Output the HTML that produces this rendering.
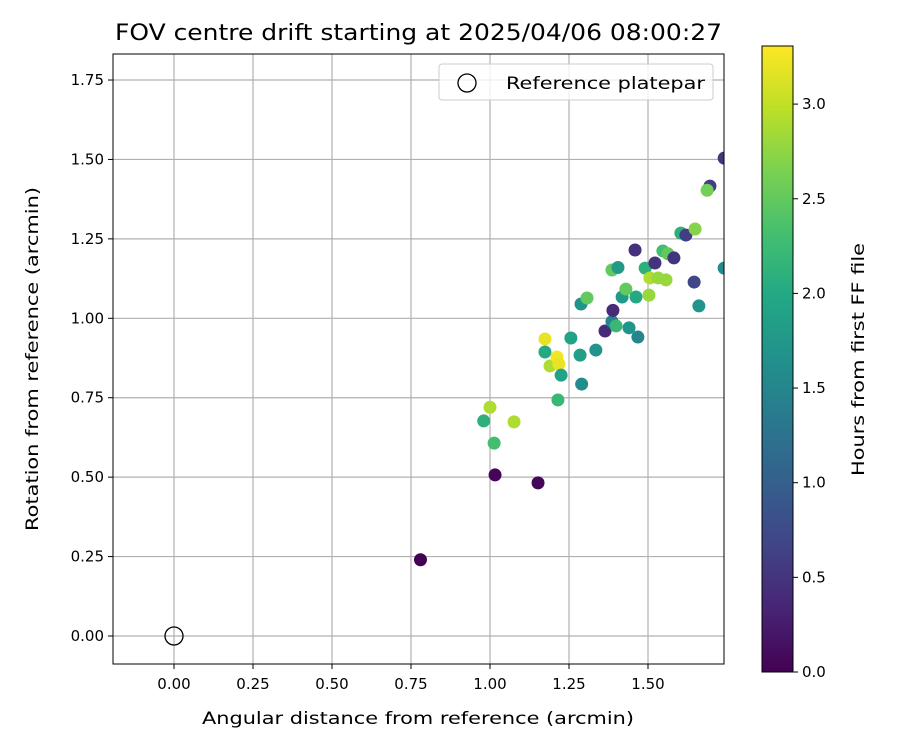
<!DOCTYPE html>
<html><head><meta charset="utf-8"><style>body{margin:0;background:#fff}svg{font-family:"DejaVu Sans","Liberation Sans",sans-serif}</style></head>
<body>
<svg id="c" width="900" height="750" xmlns="http://www.w3.org/2000/svg">
<defs>
<clipPath id="clip"><rect x="113" y="54" width="611" height="610"/></clipPath>
<linearGradient id="vir" x1="0" y1="1" x2="0" y2="0">
<stop offset="0" stop-color="#440154"/><stop offset="0.1" stop-color="#482475"/><stop offset="0.2" stop-color="#414487"/><stop offset="0.3" stop-color="#355f8d"/><stop offset="0.4" stop-color="#2a788e"/><stop offset="0.5" stop-color="#21918c"/><stop offset="0.6" stop-color="#22a884"/><stop offset="0.7" stop-color="#44bf70"/><stop offset="0.8" stop-color="#7ad151"/><stop offset="0.9" stop-color="#bddf26"/><stop offset="1" stop-color="#fde725"/>
</linearGradient>
</defs>
<text x="115" y="40" font-size="22" textLength="607" lengthAdjust="spacingAndGlyphs">FOV centre drift starting at 2025/04/06 08:00:27</text>
<g id="grid"></g>
<g id="pts" clip-path="url(#clip)"></g>
<rect x="113" y="54" width="611" height="610" fill="none" stroke="#000" stroke-width="1"/>
<g id="ticks"></g>
<text x="202" y="724" font-size="17" textLength="432" lengthAdjust="spacingAndGlyphs">Angular distance from reference (arcmin)</text>
<text transform="translate(38,531) rotate(-90)" font-size="17" textLength="344" lengthAdjust="spacingAndGlyphs">Rotation from reference (arcmin)</text>
<g>
<rect x="439" y="64" width="274" height="36" rx="3" fill="#fff" fill-opacity="0.8" stroke="#ccc"/>
<circle cx="467" cy="83" r="9" fill="none" stroke="#000" stroke-width="1.3"/>
<text x="506" y="89" font-size="17" textLength="199" lengthAdjust="spacingAndGlyphs">Reference platepar</text>
</g>
<rect x="762" y="46" width="31" height="626" fill="url(#vir)" stroke="#000" stroke-width="1"/>
<g id="cbt"></g>
<text transform="translate(864,476) rotate(-90)" font-size="17" textLength="233" lengthAdjust="spacingAndGlyphs">Hours from first FF file</text>
</svg>
<script>
const xTicks=[0,0.25,0.5,0.75,1.0,1.25,1.5];
const yTicks=[0,0.25,0.5,0.75,1.0,1.25,1.5,1.75];
const cTicks=[0,0.5,1.0,1.5,2.0,2.5,3.0];
const xs=[0.78,1.016,1.152,1.0,0.98,1.013,1.076,1.174,1.174,1.19,1.212,1.218,1.225,1.215,1.256,1.285,1.29,1.288,1.307,1.335,1.364,1.386,1.389,1.386,1.405,1.399,1.418,1.43,1.44,1.459,1.462,1.468,1.491,1.503,1.506,1.522,1.532,1.547,1.557,1.563,1.582,1.604,1.62,1.649,1.646,1.661,1.696,1.687,1.741,1.741];
const ys=[0.24,0.507,0.482,0.72,0.677,0.607,0.674,0.935,0.894,0.85,0.878,0.856,0.821,0.743,0.938,0.884,0.793,1.045,1.064,0.9,0.96,0.99,1.025,1.152,1.16,0.976,1.067,1.092,0.97,1.215,1.067,0.941,1.158,1.073,1.127,1.174,1.127,1.212,1.121,1.203,1.19,1.268,1.262,1.281,1.114,1.039,1.416,1.403,1.504,1.158];
const hrs=[0.0,0.05,0.05,2.9,2.1,2.3,2.9,3.2,2.0,2.9,3.25,3.2,1.9,2.2,1.9,1.85,1.6,1.7,2.5,1.7,0.4,1.5,0.4,2.5,1.8,2.2,1.8,2.5,1.7,0.45,2.0,1.5,2.1,2.8,2.9,0.5,2.8,2.3,2.8,2.5,0.5,2.1,0.6,2.7,0.7,1.7,0.6,2.6,0.5,1.6];
const X=v=>174+v*316, Y=v=>636-v*317.7, C=v=>672-v*189.3;
const vir=[[68,1,84],[72,36,117],[65,68,135],[53,95,141],[42,120,142],[33,145,140],[34,168,132],[68,191,112],[122,209,81],[189,223,38],[253,231,37]];
function col(h){let t=Math.max(0,Math.min(1,h/3.306))*10,i=Math.min(9,Math.floor(t)),f=t-i,a=vir[i],b=vir[i+1];return`rgb(${a.map((v,k)=>Math.round(v+(b[k]-v)*f)).join(',')})`;}
const NS='http://www.w3.org/2000/svg';
function mk(p,tag,at,txt){const e=document.createElementNS(NS,tag);for(const k in at)e.setAttribute(k,at[k]);if(txt!==undefined)e.textContent=txt;document.getElementById(p).appendChild(e);return e;}
xTicks.forEach(v=>{const x=X(v);
let g=mk('grid','line',{x1:x,x2:x,y1:54,y2:664,stroke:'#b0b0b0','stroke-width':1.2});


let t=mk('ticks','line',{x1:x,x2:x,y1:664,y2:669,stroke:'#000'});


let l=mk('ticks','text',{x:x,y:689,'font-size':15,'text-anchor':'middle'},v.toFixed(2));

});
yTicks.forEach(v=>{const y=Y(v);
let g=mk('grid','line',{x1:113,x2:724,y1:y,y2:y,stroke:'#b0b0b0','stroke-width':1.2});


let t=mk('ticks','line',{x1:108,x2:113,y1:y,y2:y,stroke:'#000'});


let l=mk('ticks','text',{x:104,y:y+5,'font-size':15,'text-anchor':'end'},v.toFixed(2));

});
cTicks.forEach(v=>{const y=C(v);
let t=mk('cbt','line',{x1:793,x2:798,y1:y,y2:y,stroke:'#000'});


let l=mk('cbt','text',{x:802,y:y+5,'font-size':15},v.toFixed(1));

});
xs.forEach((v,i)=>{let c=mk('pts','circle',{cx:X(v),cy:Y(ys[i]),r:6.5,fill:col(hrs[i])});

});
let r=mk('pts','circle',{cx:X(0),cy:Y(0),r:9,fill:'none',stroke:'#000','stroke-width':1.3});


</script>
</body></html>
